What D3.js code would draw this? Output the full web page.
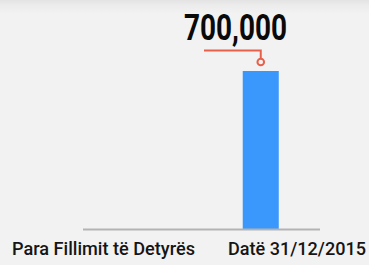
<!DOCTYPE html>
<html><head><meta charset="utf-8">
<script src="https://cdn.jsdelivr.net/npm/d3@7"></script>
<style>html,body{margin:0;padding:0;background:#f2f2f2;}svg{display:block;}</style>
</head><body>
<script>
const categories = ["Para Fillimit të Detyrës", "Datë 31/12/2015"];
const values = [0, 700000];
const annotationLabel = "700,000";

const W = 369, H = 265;
const svg = d3.select("body").append("svg").attr("width", W).attr("height", H);
const defs = svg.append("defs");
const g = defs.append("linearGradient").attr("id","sh").attr("x1",0).attr("y1",0).attr("x2",0).attr("y2",1);
g.append("stop").attr("offset","0%").attr("stop-color","#e4e4e4");
g.append("stop").attr("offset","40%").attr("stop-color","#ececec");
g.append("stop").attr("offset","100%").attr("stop-color","#f2f2f2");
svg.append("rect").attr("width",W).attr("height",H).attr("fill","#f2f2f2");
svg.append("rect").attr("width",W).attr("height",14).attr("fill","url(#sh)");

const x = d3.scaleBand().domain(categories).range([83, 320]).paddingInner(0.696).paddingOuter(0.348);
const y = d3.scaleLinear().domain([0, 700000]).range([229, 71]);

// bars
svg.selectAll("rect.bar").data(values).join("rect").attr("class","bar")
  .attr("x",(d,i)=>x(categories[i])).attr("width",x.bandwidth())
  .attr("y",d=>y(d)).attr("height",d=>y(0)-y(d)).attr("fill","#3a97fb");

// axis line
svg.append("line").attr("x1",83).attr("x2",320).attr("y1",y(0)+0.5).attr("y2",y(0)+0.5)
  .attr("stroke","#b3b3b3").attr("stroke-width",2);

// labels
const labelX = [103.5, 297];
svg.selectAll("text.cat").data(categories).join("text").attr("class","cat")
  .attr("x",(d,i)=>labelX[i]).attr("y",255).attr("text-anchor","middle")
  .attr("font-family","Roboto, sans-serif").attr("font-weight",500).attr("font-size",19).attr("fill","#151515")
  .attr("textLength",(d,i)=> i===0?183:138).attr("lengthAdjust","spacingAndGlyphs")
  .text(d=>d);

// annotation
const cx = x(categories[1]) + x.bandwidth()/2;
const barTop = y(values[1]);
svg.append("path").attr("d",`M204,50.5 H${cx} V${barTop-12}`).attr("fill","none")
  .attr("stroke","#e8604a").attr("stroke-width",2);
svg.append("circle").attr("cx",cx).attr("cy",barTop-9).attr("r",3.3).attr("fill","#f2f2f2")
  .attr("stroke","#e8604a").attr("stroke-width",2);
svg.append("text").attr("x",235.5).attr("y",40).attr("text-anchor","middle")
  .attr("font-family","Roboto, sans-serif").attr("font-weight","bold").attr("font-size",37)
  .attr("fill","#0a0a0a").attr("textLength",103).attr("lengthAdjust","spacingAndGlyphs")
  .text(annotationLabel);
</script>
</body></html>
